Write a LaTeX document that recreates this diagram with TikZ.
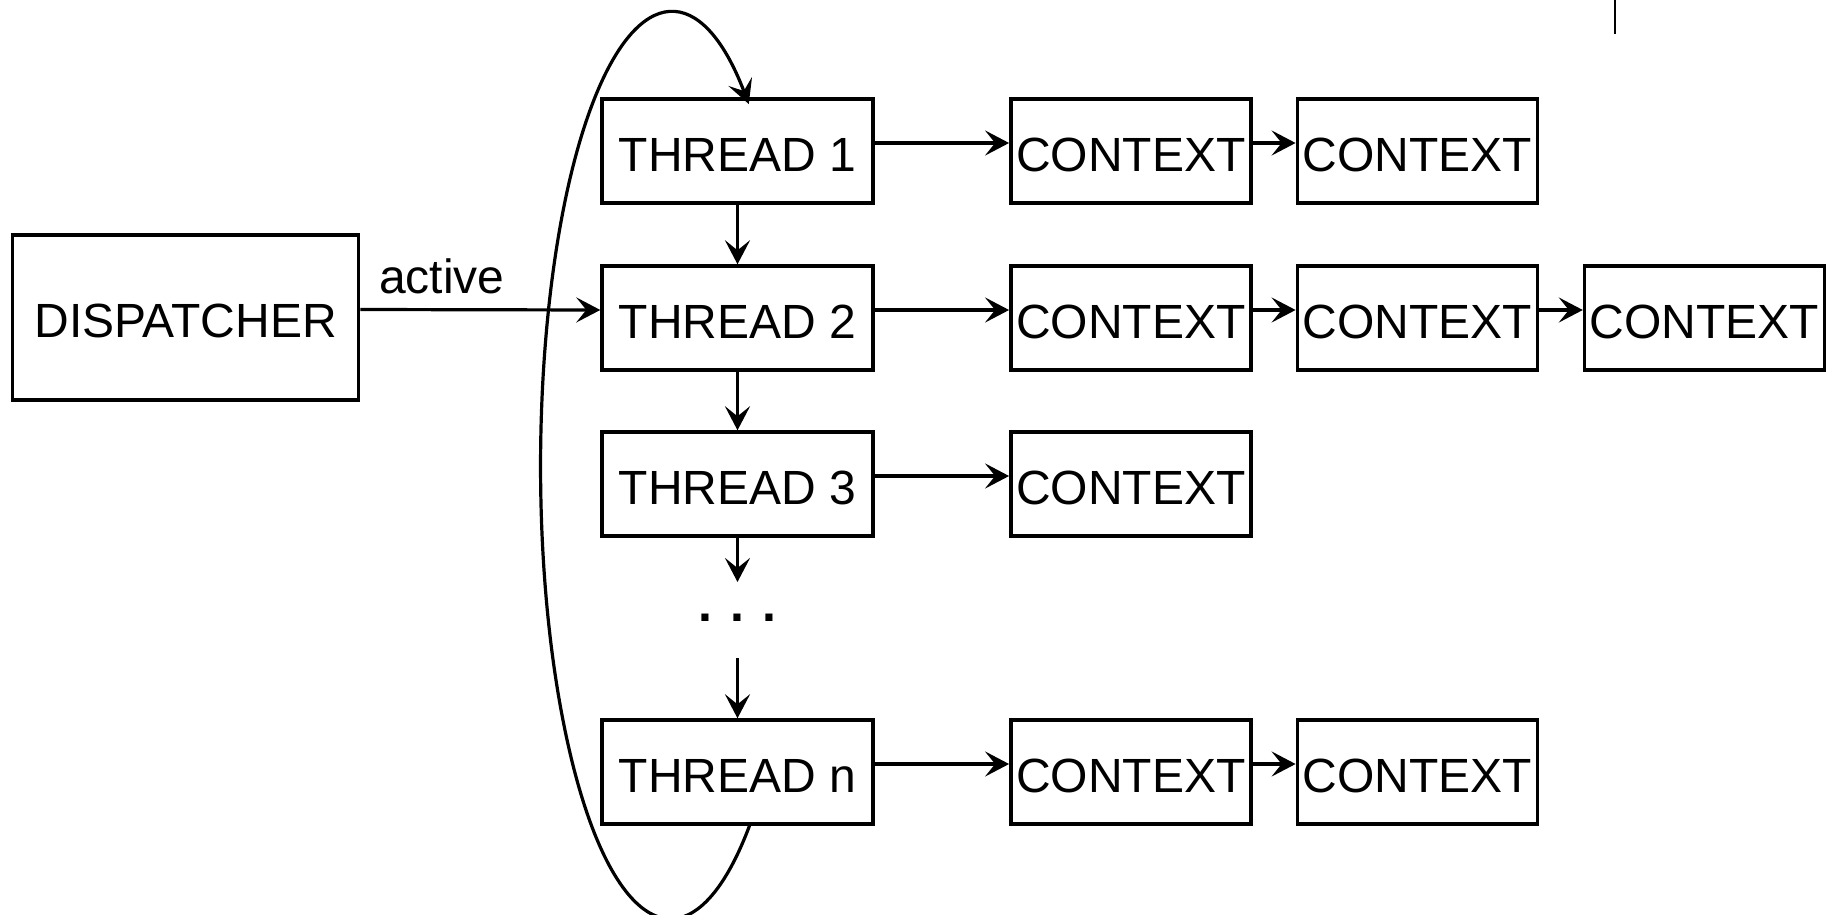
\documentclass[tikz,border=0pt]{standalone}
\usepackage{fontspec}
\setmainfont{Liberation Sans}
\usetikzlibrary{arrows.meta}
\begin{document}
\begin{tikzpicture}[x=0.5pt,y=-0.5pt,
  lbl/.style={font=\fontsize{24pt}{28pt}\selectfont},
  box/.style={lbl, draw, line width=1.7pt, inner sep=0pt, minimum height=52pt,
              text height=20.2pt, text depth=0pt},
  thr/.style={box, minimum width=135.5pt},
  ctx/.style={box, minimum width=120pt},
  arr/.style={line width=1.6pt, -{Stealth[length=12pt,width=12.5pt,inset=5pt]}},
]
\useasboundingbox (0,0) rectangle (1830,915);

% dispatcher and thread column
\node[box, minimum width=173pt, minimum height=82.5pt] (disp) at (185.6,317.5) {DISPATCHER};
\node[thr] (t1) at (737.5,151) {THREAD 1};
\node[thr] (t2) at (737.5,318) {THREAD 2};
\node[thr] (t3) at (737.5,484) {THREAD 3};
\node[thr] (tn) at (737.5,772) {THREAD n};

% context chains
\node[ctx] (c11) at (1130.8,151) {CONTEXT};
\node[ctx] (c12) at (1417.3,151) {CONTEXT};
\node[ctx] (c21) at (1130.8,318) {CONTEXT};
\node[ctx] (c22) at (1417.3,318) {CONTEXT};
\node[ctx] (c23) at (1704.5,318) {CONTEXT};
\node[ctx] (c31) at (1130.8,484) {CONTEXT};
\node[ctx] (cn1) at (1130.8,772) {CONTEXT};
\node[ctx] (cn2) at (1417.3,772) {CONTEXT};

% ellipsis between thread 3 and thread n
\coordinate (d1) at (737.5,582);
\node[lbl, font=\bfseries\fontsize{25pt}{28pt}\selectfont] (dots) at (737.5,618) {. . .};
\coordinate (d2) at (737.5,658);

% label of the dispatcher edge
\node[lbl, anchor=base] (act) at (442,293) {active};

% dispatcher -> thread 2
\draw[arr] ([yshift=4pt]disp.east) -- ([yshift=4pt]t2.west);

% thread chain
\draw[arr] (t1.south) -- (t2.north);
\draw[arr] (t2.south) -- (t3.north);
\draw[arr] (t3.south) -- (d1);
\draw[arr] (d2) -- (tn.north);

% threads -> contexts
\foreach \a/\b in {t1/c11, c11/c12, t2/c21, c21/c22, c22/c23, t3/c31, tn/cn1, cn1/cn2}
  \draw[arr] ([yshift=4pt]\a.east) -- ([yshift=4pt]\b.west);

% round-robin loop from thread n back to thread 1
\draw[arr] ([xshift=6pt]tn.south)
  arc[start angle=-52.6, end angle=-307, x radius=65pt, y radius=226.5pt];

% short mark at the top edge
\coordinate (m1) at (1615,0);
\coordinate (m2) at (1615,34);
\draw[line width=1pt] (m1) -- (m2);
\end{tikzpicture}
\end{document}
